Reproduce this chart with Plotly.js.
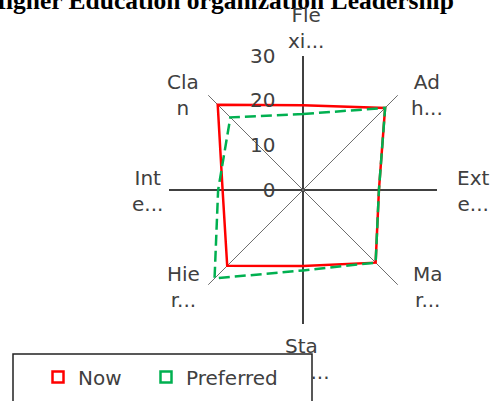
<!DOCTYPE html>
<html><head><meta charset="utf-8">
<script src="https://cdn.plot.ly/plotly-3.0.1.min.js"></script>
<style>html,body{margin:0;padding:0;background:#fff}#chart{width:497px;height:401px}</style>
</head><body><div id="chart"></div>
<script>
// ---- data ----
const titleText = "Higher Education organization Leadership";
const categories = ["Fle<br>xi...", "Ad<br>h...", "Ext<br>e...", "Ma<br>r...", "Sta<br>...", "Hie<br>r...", "Int<br>e...", "Cla<br>n"];
const nowValues = [19, 26, 17, 23, 17, 24, 18, 27];
const preferredValues = [17, 26, 17, 23, 18, 28, 19, 23];
const seriesNames = ["Now", "Preferred"];
const radialTicks = [0, 10, 20, 30];

// ---- style / layout helpers ----
const W = 497, H = 401;
const cx = 303, cy = 190, R = 134;
const dom = {x: [(cx - R) / W, (cx + R) / W], y: [1 - (cy + R) / H, 1 - (cy - R) / H]};
const labelFont = {family: "DejaVu Sans", size: 20, color: "#404040"};
const labelPos = [[306, 28], [427, 95], [473, 191], [428, 287], [283, 359], [183, 287], [147, 191], [183, 95]];
const labelAlign = ["center", "center", "center", "center", "left", "center", "center", "center"];
const labelIndent = [0, 0, 0, 0, 4, 0, 0, 0];

const closeLoop = a => a.concat([a[0]]);
const mainCats = [0, 2, 4, 6].map(i => categories[i]);
const diagCats = [1, 3, 5, 7].map(i => categories[i]);

const traces = [
  {type: "scatterpolar", subplot: "polar", r: [null], theta: [categories[0]], mode: "lines",
   showlegend: false, hoverinfo: "skip"},
  {type: "scatterpolar", subplot: "polar2", r: closeLoop(nowValues), theta: closeLoop(categories),
   mode: "lines", name: seriesNames[0], showlegend: false,
   line: {color: "#FF0000", width: 2.5}},
  {type: "scatterpolar", subplot: "polar2", r: closeLoop(preferredValues), theta: closeLoop(categories),
   mode: "lines", name: seriesNames[1], showlegend: false,
   line: {color: "#00B050", width: 2.5, dash: "11px,5px"}},
  {type: "scatterpolar", subplot: "polar2", r: [null], theta: [categories[0]], mode: "markers",
   name: seriesNames[0], legend: "legend",
   marker: {symbol: "square-open", size: 11, color: "#FF0000", line: {width: 2.5}}},
  {type: "scatterpolar", subplot: "polar2", r: [null], theta: [categories[0]], mode: "markers",
   name: seriesNames[1], legend: "legend2",
   marker: {symbol: "square-open", size: 11, color: "#00B050", line: {width: 2.5}}}
];

const angBase = {type: "category", categoryarray: categories, categoryorder: "array",
  rotation: 90, direction: "clockwise", showline: false, showticklabels: false, ticks: ""};

const annotations = categories.map((c, i) => ({
  xref: "paper", yref: "paper", x: labelPos[i][0] / W, y: 1 - labelPos[i][1] / H,
  xanchor: labelAlign[i] === "left" ? "left" : "center", yanchor: "middle",
  align: labelAlign[i], showarrow: false, font: labelFont,
  text: labelIndent[i] ? c.replace("<br>", "<br>" + "\u00a0".repeat(labelIndent[i])) : c
}));

const legendBase = {orientation: "h", xanchor: "left", y: 1 - 377 / H, yanchor: "middle",
  font: labelFont, bgcolor: "rgba(0,0,0,0)", borderwidth: 0, itemwidth: 30};

const layout = {
  width: W, height: H,
  margin: {l: 0, r: 0, t: 0, b: 0},
  paper_bgcolor: "#fff",
  title: {text: "<b>" + titleText + "</b>", font: {family: "Liberation Serif", size: 25.5, color: "#000"},
    x: 220 / W, xanchor: "center", xref: "container", y: 1, yref: "container", yanchor: "middle"},
  polar: {domain: dom, bgcolor: "#fff",
    angularaxis: Object.assign({}, angBase, {tickmode: "array", tickvals: mainCats, showgrid: true, gridcolor: "#000", gridwidth: 1.5}),
    radialaxis: {range: [0, 30], visible: false}},
  polar2: {domain: dom, bgcolor: "rgba(0,0,0,0)",
    angularaxis: Object.assign({}, angBase, {tickmode: "array", tickvals: diagCats, showgrid: true, gridcolor: "#6e6e6e", gridwidth: 1}),
    radialaxis: {range: [0, 30], tickmode: "array", tickvals: radialTicks, showline: false, showgrid: false,
      angle: 90, side: "counterclockwise", ticks: "outside", ticklen: 20, tickcolor: "rgba(0,0,0,0)",
      tickangle: 90, tickfont: labelFont}},
  showlegend: true,
  legend: Object.assign({}, legendBase, {x: 38 / W}),
  legend2: Object.assign({}, legendBase, {x: 146 / W}),
  shapes: [{type: "rect", xref: "paper", yref: "paper", x0: 13 / W, x1: 312 / W, y0: -0.1, y1: 1 - 354 / H,
    line: {color: "#222", width: 1.5}, fillcolor: "rgba(0,0,0,0)", layer: "below"}],
  annotations: annotations
};

Plotly.newPlot("chart", traces, layout, {displayModeBar: false, staticPlot: true});
</script>
</body></html>
